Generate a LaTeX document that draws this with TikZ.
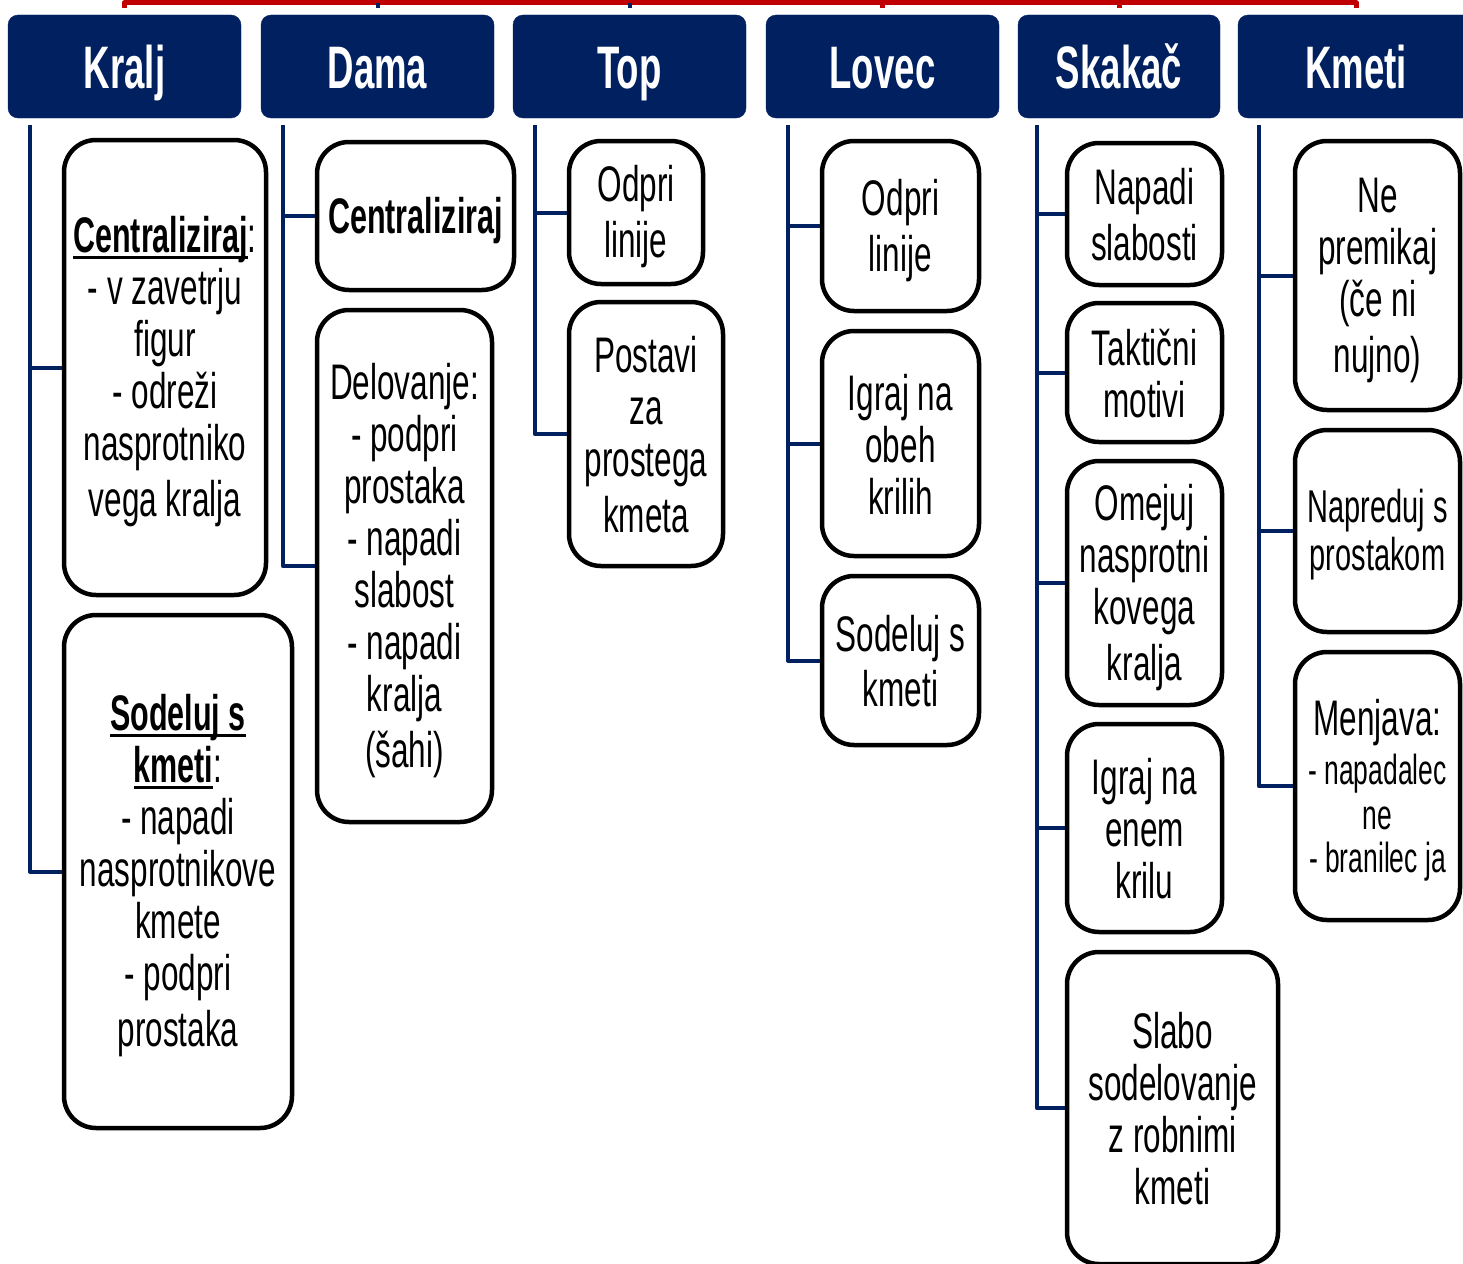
\documentclass[tikz,border=0pt]{standalone}
\usepackage{fontspec}
\setmainfont[FakeStretch=0.63, BoldFeatures={FakeStretch=0.61}]{Liberation Sans}
\usetikzlibrary{calc, positioning}
\definecolor{azul}{HTML}{002060}
\definecolor{rojo}{HTML}{C00000}
\def\W{1463}
\def\H{1263}
% subrayado grueso
\newcommand{\subr}[1]{\setbox0\hbox{#1}\rlap{\rule[-6pt]{\wd0}{2.6pt}}\box0}
% puntal para centrar las líneas en las cajas
\newcommand{\est}{\rule[-7.5pt]{0pt}{52pt}}
\newcommand{\chico}{\fontsize{42}{46}\selectfont}

\begin{document}
\begin{tikzpicture}[
	% Propiedades generales del dibujo
	x = 1pt, y = -1pt,
	line join = round,
	% Definición de nuevos estilos
	% 	a. cabeceras
	cabecera/.style = {
		fill = azul, draw = azul,
		rounded corners = 10pt,
		text = white,
		font = \fontsize{60}{62}\selectfont\bfseries,
		minimum height = 103pt, inner sep = 0pt,
		text height = 51pt, text depth = 7pt
	},
	% 	b. cajas de texto
	caja/.style = {
		draw = black, line width = 4.5pt, fill = white,
		rounded corners = 32pt,
		align = center, inner sep = 0pt,
		font = \fontsize{50}{52}\selectfont
	},
	%	c. líneas del árbol
	rama/.style = {draw = azul, line width = 4pt},
	raiz/.style = {draw = rojo, line width = 5pt},
]

	% márgenes del dibujo
	\useasboundingbox (0,0) rectangle (\W,\H);

	% cabeceras
	\node[cabecera, minimum width = 233pt] (kralj)  at (124.5,66.5) {Kralj};
	\node[cabecera, minimum width = 233pt] (dama)   at (377.5,66.5) {Dama};
	\node[cabecera, minimum width = 233pt] (top)    at (629.5,66.5) {Top};
	\node[cabecera, minimum width = 233pt] (lovec)  at (882.5,66.5) {Lovec};
	\node[cabecera, minimum width = 202pt] (skakac) at (1119,66.5) {Skakač};
	\node[cabecera, minimum width = 236pt] (kmeti)  at (1356,66.5) {Kmeti};

	% línea superior
	\draw[raiz] ([yshift=7pt]kralj.north) -- ++(0,-5) -| ([yshift=7pt]kmeti.north);
	\foreach \h in {lovec, skakac}
		\draw[raiz] ([yshift=7pt]\h.north) -- ++(0,-5);
	\foreach \h in {dama, top}
		\draw[rama] ([yshift=7pt]\h.north) -- ++(0,-5);

	% Kralj
	\node[caja, minimum width = 202pt, minimum height = 455pt] (k1) at (165,367.5)
		{\est\subr{\textbf{Centraliziraj}}:\\ - v zavetrju\\ figur\\ - odreži\\ nasprotniko\\ \est vega kralja};
	\node[caja, minimum width = 228pt, minimum height = 513pt] (k2) at (178,871.5)
		{\est\subr{\textbf{Sodeluj s}}\\ \subr{\textbf{kmeti}}:\\ - napadi\\ nasprotnikove\\ kmete\\ - podpri\\ \est prostaka};

	% Dama
	\node[caja, minimum width = 197pt, minimum height = 148pt] (d1) at (415.5,216)
		{\est\textbf{Centraliziraj}};
	\node[caja, minimum width = 175pt, minimum height = 512pt] (d2) at (404.5,566)
		{\est Delovanje:\\ - podpri\\ prostaka\\ - napadi\\ slabost\\ - napadi\\ kralja\\ \est(šahi)};

	% Top
	\node[caja, minimum width = 134pt, minimum height = 143pt] (t1) at (636,212.5)
		{\est Odpri\\ \est linije};
	\node[caja, minimum width = 154pt, minimum height = 264pt] (t2) at (646,434)
		{\est Postavi\\ za\\ prostega\\ \est kmeta};

	% Lovec
	\node[caja, minimum width = 157pt, minimum height = 170pt] (l1) at (900.5,226)
		{\est Odpri\\ \est linije};
	\node[caja, minimum width = 157pt, minimum height = 225pt] (l2) at (900.5,443.5)
		{\est Igraj na\\ obeh\\ \est krilih};
	\node[caja, minimum width = 157pt, minimum height = 169pt] (l3) at (900.5,660.5)
		{\est Sodeluj s\\ \est kmeti};

	% Skakač
	\node[caja, minimum width = 155pt, minimum height = 142pt] (s1) at (1144.5,214)
		{\est Napadi\\ \est slabosti};
	\node[caja, minimum width = 155pt, minimum height = 139pt] (s2) at (1144.5,372.5)
		{\est Taktični\\ \est motivi};
	\node[caja, minimum width = 155pt, minimum height = 244pt] (s3) at (1144.5,583)
		{\est Omejuj\\ nasprotni\\ kovega\\ \est kralja};
	\node[caja, minimum width = 155pt, minimum height = 208pt] (s4) at (1144.5,828)
		{\est Igraj na\\ enem\\ \est krilu};
	\node[caja, minimum width = 211pt, minimum height = 312pt] (s5) at (1172.5,1108)
		{\est Slabo\\ sodelovanje\\ z robnimi\\ \est kmeti};

	% Kmeti
	\node[caja, minimum width = 165pt, minimum height = 269pt] (m1) at (1377.5,275.5)
		{\est Ne\\ premikaj\\ (če ni\\ \est nujno)};
	\node[caja, minimum width = 165pt, minimum height = 202pt] (m2) at (1377.5,531)
		{\fontsize{46}{48}\selectfont\rule[-7pt]{0pt}{48pt}Napreduj s\\[-4pt]
		 \fontsize{46}{48}\selectfont\rule[-7pt]{0pt}{48pt}prostakom};
	\node[caja, minimum width = 165pt, minimum height = 268pt] (m3) at (1377.5,786)
		{\est Menjava:\\[-3pt] \chico - napadalec\\[-7pt] \chico ne\\[-9pt]
		 \chico\rule[-7pt]{0pt}{40pt}- branilec ja};

	% ramas del árbol
	\foreach \c in {k1, k2}
		\draw[rama] ([xshift=22pt, yshift=-7pt]kralj.south west) |- (\c.west);
	\foreach \c in {d1, d2}
		\draw[rama] ([xshift=22pt, yshift=-7pt]dama.south west) |- (\c.west);
	\foreach \c in {t1, t2}
		\draw[rama] ([xshift=22pt, yshift=-7pt]top.south west) |- (\c.west);
	\foreach \c in {l1, l2, l3}
		\draw[rama] ([xshift=22pt, yshift=-7pt]lovec.south west) |- (\c.west);
	\foreach \c in {s1, s2, s3, s4, s5}
		\draw[rama] ([xshift=19pt, yshift=-7pt]skakac.south west) |- (\c.west);
	\foreach \c in {m1, m2, m3}
		\draw[rama] ([xshift=21pt, yshift=-7pt]kmeti.south west) |- (\c.west);

\end{tikzpicture}
\end{document}
